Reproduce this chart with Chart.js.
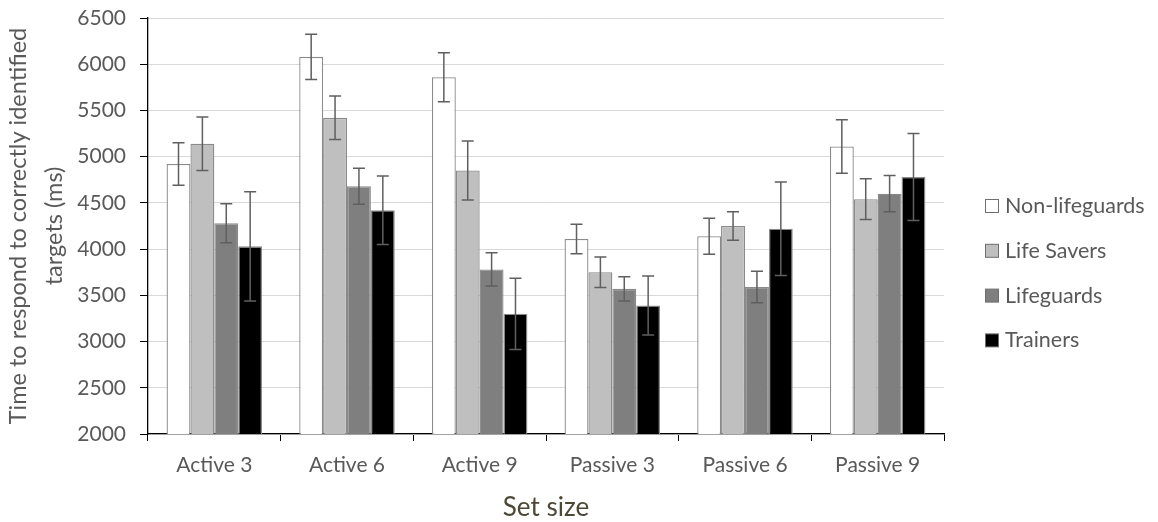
<!DOCTYPE html>
<html>
<head>
<meta charset="utf-8">
<script src="https://cdn.jsdelivr.net/npm/chart.js@4.4.1/dist/chart.umd.min.js"></script>
<style>
  html, body { margin: 0; padding: 0; background: #ffffff; }
  #wrap { width: 1158px; height: 522px; }
</style>
</head>
<body>
<div id="wrap"><canvas id="chart" width="1158" height="522"></canvas></div>
<script>
// Response times (ms) by set size and group, with error bar half-widths
const categories = ['Active 3', 'Active 6', 'Active 9', 'Passive 3', 'Passive 6', 'Passive 9'];

const nonLifeguards    = [4920, 6080, 5860, 4110, 4140, 5110];
const nonLifeguardsErr = [230, 245, 265, 160, 195, 290];

const lifeSavers    = [5140, 5420, 4850, 3750, 4250, 4540];
const lifeSaversErr = [290, 235, 320, 165, 155, 220];

const lifeguards    = [4280, 4680, 3780, 3570, 3590, 4600];
const lifeguardsErr = [210, 195, 180, 130, 170, 195];

const trainers    = [4030, 4420, 3300, 3390, 4220, 4780];
const trainersErr = [590, 370, 385, 320, 505, 470];

const seriesLabels = ['Non-lifeguards', 'Life Savers', 'Lifeguards', 'Trainers'];
const yTicks = [2000, 2500, 3000, 3500, 4000, 4500, 5000, 5500, 6000, 6500];

const FONT = 'Lato, "Open Sans", sans-serif';
const TEXT = '#595959';

// Draws the ± error bars on top of each bar
const errorBars = {
  id: 'errorBars',
  afterDatasetsDraw(chart) {
    const ctx = chart.ctx;
    const y = chart.scales.y;
    ctx.save();
    ctx.strokeStyle = '#5f5f5f';
    ctx.lineWidth = 1.5;
    chart.data.datasets.forEach((ds, di) => {
      const meta = chart.getDatasetMeta(di);
      meta.data.forEach((bar, i) => {
        const v = ds.data[i], e = ds.errors[i];
        const yTop = y.getPixelForValue(v + e);
        const yBot = y.getPixelForValue(v - e);
        const cap = 6;
        ctx.beginPath();
        ctx.moveTo(bar.x, yTop); ctx.lineTo(bar.x, yBot);
        ctx.moveTo(bar.x - cap, yTop); ctx.lineTo(bar.x + cap, yTop);
        ctx.moveTo(bar.x - cap, yBot); ctx.lineTo(bar.x + cap, yBot);
        ctx.stroke();
      });
    });
    ctx.restore();
  }
};

// Legend column to the right of the plot
const sideLegend = {
  id: 'sideLegend',
  afterDraw(chart) {
    const ctx = chart.ctx;
    ctx.save();
    ctx.font = '21.5px ' + FONT;
    ctx.textBaseline = 'middle';
    ctx.textAlign = 'left';
    chart.data.datasets.forEach((ds, i) => {
      const cy = 206 + i * 44.8;
      ctx.fillStyle = ds.backgroundColor;
      ctx.fillRect(985.5, cy - 6.5, 13, 13);
      ctx.strokeStyle = '#6f6f6f';
      ctx.lineWidth = 1;
      ctx.strokeRect(985.5, cy - 6.5, 13, 13);
      ctx.fillStyle = TEXT;
      ctx.fillText(ds.label, 1005, cy);
    });
    ctx.restore();
  }
};

const fills = ['#ffffff', '#bfbfbf', '#7f7f7f', '#000000'];
const values = [nonLifeguards, lifeSavers, lifeguards, trainers];
const errors = [nonLifeguardsErr, lifeSaversErr, lifeguardsErr, trainersErr];

new Chart(document.getElementById('chart'), {
  type: 'bar',
  data: {
    labels: categories,
    datasets: seriesLabels.map((label, i) => ({
      label,
      data: values[i],
      errors: errors[i],
      backgroundColor: fills[i],
      borderColor: '#8a8a8a',
      borderWidth: 1.3,
      categoryPercentage: 0.72,
      barPercentage: 1.0
    }))
  },
  options: {
    responsive: false,
    animation: false,
    devicePixelRatio: 1,
    layout: { padding: { left: 0, right: 214, top: 18, bottom: 0 } },
    plugins: { legend: { display: false }, tooltip: { enabled: false } },
    scales: {
      x: {
        z: 1,
        grid: { drawOnChartArea: false, drawTicks: true, tickLength: 7, tickColor: '#000', offset: true },
        border: { color: '#000', width: 1.3 },
        ticks: { color: TEXT, font: { family: FONT, size: 21 }, padding: 12 },
        title: {
          display: true, text: 'Set size', color: '#4d4836',
          font: { family: FONT, size: 26, lineHeight: 1.0 }, padding: { top: 0, bottom: 1 }
        },
        afterFit(scale) { scale.height = 88; }
      },
      y: {
        min: 2000, max: 6500,
        afterBuildTicks(scale) { scale.ticks = yTicks.map(v => ({ value: v })); },
        grid: { color: '#d9d9d9', lineWidth: 1, tickLength: 8, tickColor: '#000' },
        border: { color: '#000', width: 1.3 },
        ticks: {
          color: TEXT, font: { family: FONT, size: 21 }, padding: 14,
          callback: (v) => String(v)
        },
        title: {
          display: true,
          text: ['Time to respond to correctly identified', 'targets (ms)'],
          color: TEXT,
          font: { family: FONT, size: 23.5, lineHeight: 1.55 },
          padding: { top: 0, bottom: 0 }
        },
        afterFit(scale) {
          scale.width = 148;
          scale.paddingTop = 0;
          scale.paddingBottom = 0;
        }
      }
    }
  },
  plugins: [errorBars, sideLegend]
});
</script>
</body>
</html>
